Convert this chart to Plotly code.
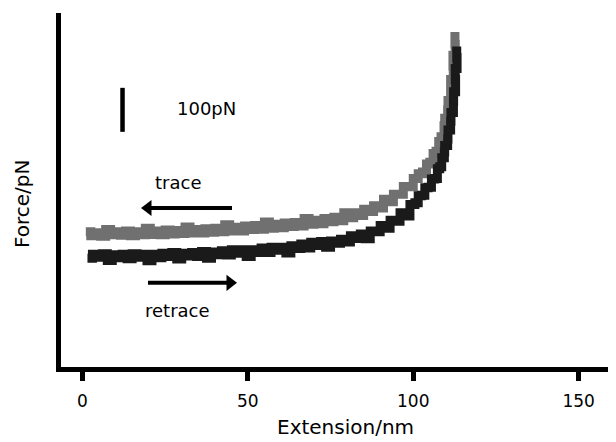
import plotly.graph_objects as go

# force-extension traces (nm, pN)
trace_ext = [1, 2.5, 4, 5.5, 7, 8.5, 10, 11.5, 13, 14.5, 16, 17.5, 19, 20.5, 22, 23.5,
             25, 26.5, 28, 29.5, 31, 32.5, 34, 35.5, 37, 38.5, 40, 41.5, 43, 44.5, 46, 47.5,
             49, 50.5, 52, 53.5, 55, 56.5, 58, 59.5, 61, 62.5, 64, 65.5, 67, 68.5, 70, 71.5,
             73, 74.5, 76, 77.5, 79, 80.5, 82, 83.5, 85, 86.5, 88, 89.5, 91, 92.5, 94, 95.5,
             97, 98.5, 100, 101.5, 102.8, 104, 105, 106, 106.9, 107.7, 108.4,
             109.3, 109.5, 110.4, 110.5, 111.3, 111.3, 112.1, 112.0, 112.7, 112.6]
trace_force = [314, 305, 312, 304, 319, 307, 314, 306, 316, 305, 314, 307, 322, 308, 316, 307,
               318, 309, 317, 310, 325, 311, 319, 311, 321, 313, 322, 314, 330, 316, 324, 316,
               327, 319, 328, 320, 336, 322, 331, 323, 334, 326, 335, 327, 344, 331, 340, 332,
               344, 337, 347, 339, 357, 346, 357, 351, 365, 360, 373, 368, 388, 382, 399, 399,
               417, 416, 435, 446, 450, 468, 472, 492, 497, 519, 530,
               555, 572, 591, 612, 636, 660, 690, 715, 740, 768]

retrace_ext = [1.5, 3, 4.5, 6, 7.5, 9, 10.5, 12, 13.5, 15, 16.5, 18, 19.5, 21, 22.5, 24,
               25.5, 27, 28.5, 30, 31.5, 33, 34.5, 36, 37.5, 39, 40.5, 42, 43.5, 45, 46.5, 48,
               49.5, 51, 52.5, 54, 55.5, 57, 58.5, 60, 61.5, 63, 64.5, 66, 67.5, 69, 70.5, 72,
               73.5, 75, 76.5, 78, 79.5, 81, 82.5, 84, 85.5, 87, 88.5, 90, 91.5, 93, 94.5, 96,
               97.5, 99, 100.5, 101.5, 102.5, 103.5, 104.5, 105.5, 106.5, 107.3, 108, 108.6,
               109.4, 109.5, 110.4, 110.5, 111.3, 111.4, 112.15, 112.2, 112.8, 112.7, 113.25, 113.15]
retrace_force = [254, 263, 256, 264, 249, 262, 255, 263, 253, 264, 256, 263, 248, 263, 255, 265,
                 258, 267, 252, 265, 259, 267, 258, 269, 254, 268, 262, 271, 261, 273, 265, 273,
                 258, 273, 267, 277, 267, 279, 272, 279, 266, 282, 276, 286, 277, 290, 283, 292,
                 279, 293, 288, 297, 291, 305, 299, 309, 298, 316, 314, 328, 322, 340, 338, 357,
                 350, 376, 380, 396, 397, 414, 415, 434, 435, 457, 462, 482,
                 495, 510, 525, 545, 565, 585, 610, 632, 660, 685, 710, 735]

# scale bar and direction arrows
scale_x = [12.1, 12.1]
scale_y = [541, 641]
arrow_trace_x = [45.2, 19.8]
arrow_trace_y = [368, 368]
arrow_retrace_x = [19.8, 44.6]
arrow_retrace_y = [198, 198]

GRAY = "rgb(112,112,112)"
BLACK = "rgb(26,26,26)"
FONT = "DejaVu Sans"

fig = go.Figure()
fig.add_trace(go.Scatter(x=trace_ext, y=trace_force, mode="lines",
                         line=dict(color=GRAY, width=9, shape="hv"), hoverinfo="skip"))
fig.add_trace(go.Scatter(x=retrace_ext, y=retrace_force, mode="lines",
                         line=dict(color=BLACK, width=9, shape="hv"), hoverinfo="skip"))
fig.add_trace(go.Scatter(x=scale_x, y=scale_y, mode="lines",
                         line=dict(color="black", width=4.5), hoverinfo="skip"))

for xs, ys, sym in [(arrow_trace_x, arrow_trace_y, "triangle-left"),
                    (arrow_retrace_x, arrow_retrace_y, "triangle-right")]:
    fig.add_trace(go.Scatter(x=xs, y=ys, mode="lines", line=dict(color="black", width=4),
                             hoverinfo="skip"))
    fig.add_trace(go.Scatter(x=[xs[1]], y=[ys[1]], mode="markers",
                             marker=dict(symbol=sym, size=14, color="black"),
                             hoverinfo="skip"))

txt = dict(family=FONT, size=18, color="black")
fig.add_annotation(x=37.6, y=595, text="100pN", showarrow=False, font=txt)
fig.add_annotation(x=28.9, y=425, text="trace", showarrow=False, font=txt)
fig.add_annotation(x=28.6, y=136, text="retrace", showarrow=False, font=txt)

# axis titles placed by hand
fig.add_annotation(x=0.5135, y=-0.1695, xref="paper", yref="paper", text="Extension/nm",
                   showarrow=False, font=dict(family=FONT, size=20, color="black"),
                   yanchor="middle")
fig.add_annotation(x=-0.0703, y=0.463, xref="paper", yref="paper", text="Force/pN",
                   showarrow=False, textangle=-90,
                   font=dict(family=FONT, size=20, color="black"), xanchor="center")

# the page body adds 8px around the plot div, so the figure is 8px smaller
fig.update_layout(
    width=608, height=434,
    margin=dict(l=53, r=0, t=5, b=75),
    plot_bgcolor="white", paper_bgcolor="white",
    showlegend=False,
    font=dict(family=FONT, size=17, color="black"),
)
fig.update_xaxes(range=[-6.5, 161.3], showgrid=False, zeroline=False,
                 showline=True, linewidth=5, linecolor="black",
                 tickvals=[0, 50, 100, 150], ticks="outside", ticklen=9, tickwidth=5,
                 tickcolor="black", tickfont=dict(family=FONT, size=17),
                 ticklabelstandoff=6)
fig.update_yaxes(range=[6.8, 811], showgrid=False, zeroline=False,
                 showline=True, linewidth=5, linecolor="black",
                 showticklabels=False, ticks="")

fig.write_html("out.html")
